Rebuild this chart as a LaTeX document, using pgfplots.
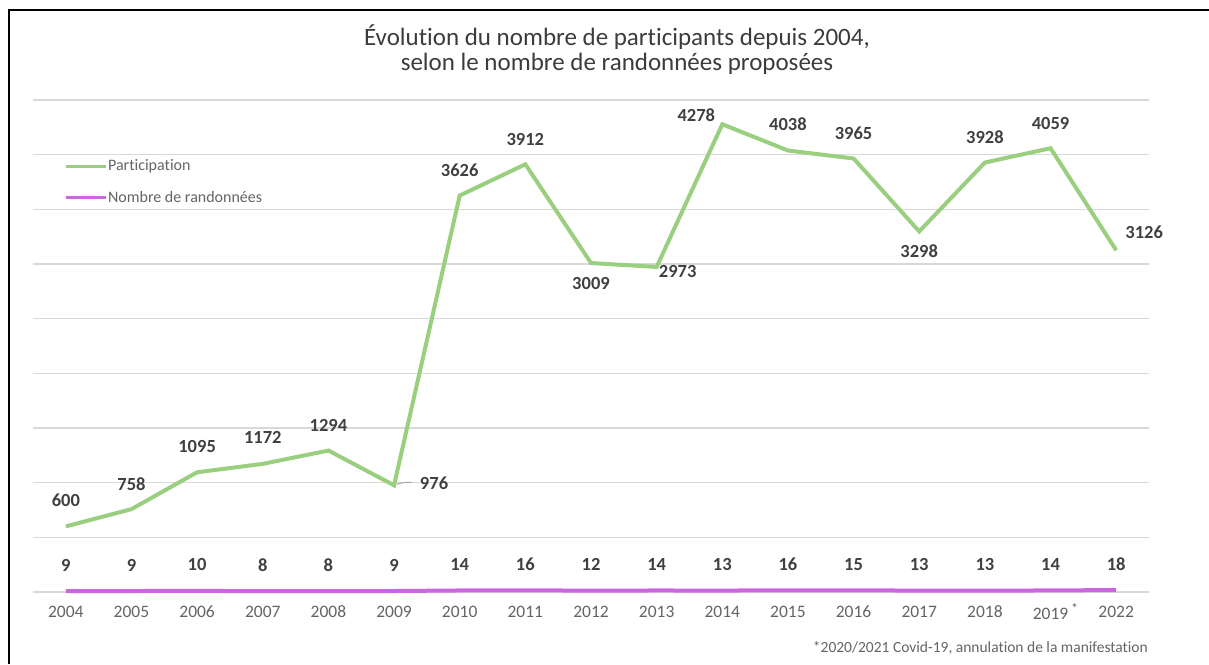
\documentclass[border=0pt]{standalone}
\usepackage{pgfplots}
\pgfplotsset{compat=1.18}
\usepackage{pgfplotstable}
\usepackage{fontspec}
\setmainfont{Carlito}[Ligatures={NoCommon}, RawFeature={-calt}]
\definecolor{pgreen}{RGB}{155,207,128}
\definecolor{ppurple}{RGB}{204,102,224}
\definecolor{gridgray}{RGB}{217,217,217}
\definecolor{lblgray}{RGB}{64,64,64}
\definecolor{tickgray}{RGB}{100,100,100}
\definecolor{titlegray}{RGB}{60,60,60}

\pgfplotstableread{
x y dx dy
0 600 0 26
1 758 0 25
2 1095 0 26
3 1172 0 26
4 1294 0 25.5
5 976 40 2
6 3626 0 25.6
7 3912 0 25
8 3009 0 -20
9 2973 21 -5
10 4278 -26 9.5
11 4038 0 26
12 3965 0 25.5
13 3298 0 -20
14 3928 0 25.6
15 4059 0 25
16 3126 28 17.5
}\participation

\pgfplotstableread{
x y
0 9
1 9
2 10
3 8
4 8
5 9
6 14
7 16
8 12
9 14
10 13
11 16
12 15
13 13
14 13
15 14
16 18
}\randos

\begin{document}
\begin{tikzpicture}
\path[use as bounding box] (0,0) rectangle (1209pt,664pt);
\draw[black, line width=1.5pt] (9pt,0) -- (9pt,654pt) -- (1209pt,654pt);
\begin{axis}[
  at={(33pt,72pt)}, anchor=south west,
  scale only axis, width=1116pt, height=492pt,
  xmin=-0.5, xmax=16.5, ymin=0, ymax=4500,
  axis line style={draw=none},
  ytick={0,500,...,4500}, yticklabels={},
  ymajorgrids, major grid style={gridgray, line width=1.3pt},
  xtick={0,...,16},
  xticklabels={2004,2005,2006,2007,2008,2009,2010,2011,2012,2013,2014,2015,2016,2017,2018,{2019\rlap{\,\raisebox{6pt}{\fontsize{14}{14}\selectfont *}}},2022},
  major tick length=0pt,
  xticklabel style={anchor=center, yshift=-20pt, font=\fontsize{17.5}{19}\selectfont, text=tickgray},
  clip=false,
  /pgf/number format/1000 sep={},
  /pgf/number format/assume math mode=true,
  legend style={at={(axis description cs:0.025,0.885)}, anchor=north west, draw=none, fill=none,
    font=\fontsize{16}{18}\selectfont, text=tickgray, row sep=17pt, cells={anchor=west},
    nodes={inner sep=1pt}},
  legend image code/.code={\draw[#1, line width=3pt] (0pt,0pt) -- (40pt,0pt);},
]
\addplot[pgreen, line width=4pt, nodes near coords, point meta=explicit,
  visualization depends on={\thisrow{dx} \as \ldx},
  visualization depends on={\thisrow{dy} \as \ldy},
  every node near coord/.style={anchor=center, xshift=\ldx pt, yshift=\ldy pt,
    font=\bfseries\fontsize{18.5}{20}\selectfont, text=lblgray}]
  table[x=x, y=y, meta=y] {\participation};
\addlegendentry{Participation}
\addplot[ppurple, line width=4pt, nodes near coords, point meta=explicit,
  every node near coord/.style={anchor=center, yshift=26pt,
    font=\bfseries\fontsize{18.5}{20}\selectfont, text=lblgray}]
  table[x=x, y=y, meta=y] {\randos};
\addlegendentry{Nombre de randonnées}
\draw[gray!70, line width=1pt] (axis cs:5,976) ++(3pt,1pt) to[out=20,in=180] ++(15pt,2pt);
\end{axis}
\node[align=center, text=titlegray, font=\fontsize{25}{25}\selectfont] at (617pt,614.5pt)
  {Évolution du nombre de participants depuis 2004,\\ selon le nombre de randonnées proposées};
\node[anchor=east, font=\fontsize{15.5}{17}\selectfont, text=tickgray, inner sep=0pt] at (1148pt,16pt)
  {*2020/2021 Covid-19, annulation de la manifestation};
\end{tikzpicture}
\end{document}
